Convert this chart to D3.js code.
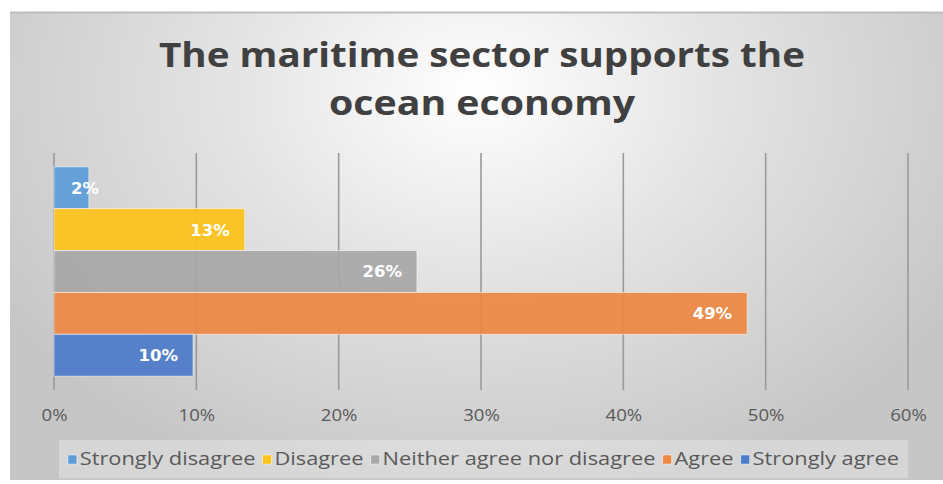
<!DOCTYPE html>
<html>
<head>
<meta charset="utf-8">
<script src="https://cdn.jsdelivr.net/npm/d3@7"></script>
<style>
  html, body { margin: 0; padding: 0; background: #ffffff; }
  svg { display: block; }
</style>
</head>
<body>
<svg id="chart" width="943" height="484"></svg>
<script>
// Survey responses, share of respondents
const categories = ["Strongly disagree", "Disagree", "Neither agree nor disagree", "Agree", "Strongly agree"];
const shares = [0.0245, 0.134, 0.255, 0.487, 0.0977];
const colors = ["#5e9cd8", "#fcc21d", "#a8a8a8", "#eb8846", "#4f7cca"];
const tickValues = [0, 0.1, 0.2, 0.3, 0.4, 0.5, 0.6];
const titleLines = ["The maritime sector supports the", "ocean economy"];

const W = 943, H = 484;
const svg = d3.select("#chart");
const stretch = 1.2;        // horizontal widening of the axis text
const legendStretch = 1.18; // horizontal widening of the legend text

// chart area with soft radial shading
const defs = svg.append("defs");
const grad = defs.append("radialGradient")
  .attr("id", "bg").attr("gradientUnits", "userSpaceOnUse")
  .attr("cx", 476).attr("cy", 90).attr("r", 560)
  .attr("gradientTransform", "translate(476,90) scale(1,0.75) translate(-476,-90)");
grad.append("stop").attr("offset", "0").attr("stop-color", "#ffffff");
grad.append("stop").attr("offset", "0.45").attr("stop-color", "#e3e3e3");
grad.append("stop").attr("offset", "1").attr("stop-color", "#c6c6c6");

const area = { x: 10, y: 12, w: 933, h: 468 };
svg.append("rect")
  .attr("x", area.x).attr("y", area.y).attr("width", area.w).attr("height", area.h)
  .attr("fill", "url(#bg)");
svg.append("line")
  .attr("x1", area.x).attr("x2", area.x + area.w)
  .attr("y1", area.y + 0.5).attr("y2", area.y + 0.5)
  .attr("stroke", "#bdbdbd").attr("stroke-width", 2);

// title
const titleWidths = [646, 306];
titleLines.forEach((t, i) => {
  svg.append("text")
    .attr("x", 482).attr("y", 67 + i * 48)
    .attr("text-anchor", "middle")
    .attr("font-family", "'Open Sans', sans-serif")
    .attr("font-weight", 700)
    .attr("font-size", 34)
    .attr("fill", "#404040")
    .attr("textLength", titleWidths[i])
    .attr("lengthAdjust", "spacingAndGlyphs")
    .text(t);
});

// scales
const plot = { left: 54, right: 908, top: 153, bottom: 390 };
const x = d3.scaleLinear().domain([0, 0.6]).range([plot.left, plot.right]);
const y = d3.scaleBand().domain(categories).range([plot.top, plot.bottom])
  .paddingInner(0).paddingOuter(0.33);

// vertical gridlines
svg.append("g").selectAll("line").data(tickValues).join("line")
  .attr("x1", d => x(d)).attr("x2", d => x(d))
  .attr("y1", plot.top).attr("y2", plot.bottom)
  .attr("stroke", "#9a9a9a").attr("stroke-width", 1.6);

// bars
const rows = categories.map((c, i) => ({ cat: c, v: shares[i], color: colors[i] }));
svg.append("g").selectAll("rect").data(rows).join("rect")
  .attr("x", x(0))
  .attr("y", d => y(d.cat))
  .attr("width", d => x(d.v) - x(0))
  .attr("height", y.bandwidth())
  .attr("fill", d => d.color)
  .attr("fill-opacity", 0.94)
  .attr("stroke", "rgba(255,255,255,0.55)")
  .attr("stroke-width", 1);

// value labels at the inside end of each bar
const fmt = d3.format(".0%");
const labels = svg.append("g").selectAll("text").data(rows).join("text")
  .attr("y", d => y(d.cat) + y.bandwidth() / 2)
  .attr("dy", "0.36em")
  .attr("text-anchor", "end")
  .attr("font-family", "'DejaVu Sans', sans-serif")
  .attr("font-weight", 700)
  .attr("font-size", 16.5)
  .attr("fill", "#ffffff")
  .text(d => fmt(d.v));
labels.each(function (d) {
  const w = this.getComputedTextLength();
  d3.select(this).attr("x", Math.max(x(d.v) - 15, x(0) + 17 + w));
});

// axis
const axis = d3.axisBottom(x).tickValues(tickValues).tickFormat(d3.format(".0%")).tickSize(0).tickPadding(0);
const ax = svg.append("g").attr("transform", `translate(0,${plot.bottom})`).call(axis);
ax.select(".domain").remove();
ax.selectAll("text")
  .attr("y", 0)
  .attr("dy", 0)
  .attr("transform", `translate(0,31) scale(${stretch},1)`)
  .attr("font-family", "'Open Sans', sans-serif")
  .attr("font-size", 15.5)
  .attr("fill", "#595959");

// legend
const legendBox = { x: 59, y: 440, w: 849, h: 38 };
svg.append("rect")
  .attr("x", legendBox.x).attr("y", legendBox.y)
  .attr("width", legendBox.w).attr("height", legendBox.h)
  .attr("fill", "rgba(255,255,255,0.28)");
const lgOuter = svg.append("g");
const lg = lgOuter.append("g");
const items = lg.selectAll("g").data(rows).join("g");
items.append("rect")
  .attr("width", 9 / legendStretch).attr("height", 9).attr("y", -10)
  .attr("fill", d => d.color)
  .attr("stroke", "rgba(255,255,255,0.7)").attr("stroke-width", 0.6);
items.append("text")
  .attr("x", 10).attr("y", 0)
  .attr("font-family", "'Open Sans', sans-serif")
  .attr("font-size", 18.5)
  .attr("fill", "#595959")
  .text(d => d.cat);
let cursor = 0;
const offsets = [];
items.each(function () {
  const tw = d3.select(this).select("text").node().getComputedTextLength();
  offsets.push(cursor);
  cursor += 10 + tw + 6;
});
const total = cursor - 6;
items.attr("transform", (d, i) => `translate(${offsets[i]},0)`);
const cx = legendBox.x + legendBox.w / 2;
lg.attr("transform", `translate(${-total / 2},0)`);
lgOuter.attr("transform", `translate(${cx},${legendBox.y + 25}) scale(${legendStretch},1)`);
</script>
</body>
</html>
